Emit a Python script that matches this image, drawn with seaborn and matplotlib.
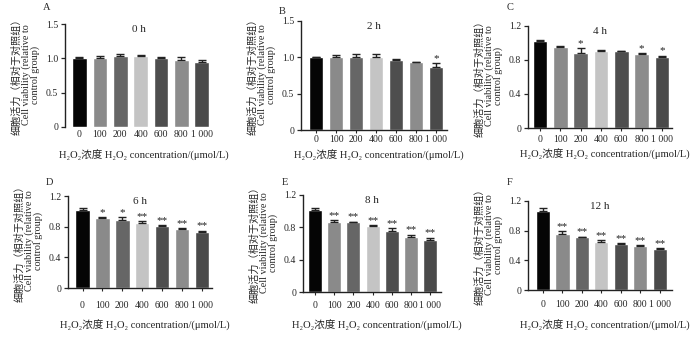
import numpy as np
import pandas as pd
import matplotlib
matplotlib.use("Agg")
import matplotlib.pyplot as plt
import seaborn as sns

sns.set_style("white")
plt.rcParams['font.family'] = ['Liberation Serif', 'Noto Sans CJK SC']

concentrations = ["0", "100", "200", "400", "600", "800", "1 000"]
bar_colors = ["#050505", "#8a8a8a", "#666666", "#c4c4c4", "#4e4e4e", "#8c8c8c", "#4a4a4a"]

panel_letters = ["A", "B", "C", "D", "E", "F"]
panel_titles = ["0 h", "2 h", "4 h", "6 h", "8 h", "12 h"]

means_0h = [1.00, 1.01, 1.03, 1.04, 1.00, 0.98, 0.94]
err_0h = [0.02, 0.02, 0.04, 0.015, 0.02, 0.04, 0.03]
stars_0h = ["", "", "", "", "", "", ""]

means_2h = [1.00, 1.01, 1.01, 1.00, 0.97, 0.93, 0.87]
err_2h = [0.01, 0.02, 0.04, 0.04, 0.01, 0.01, 0.05]
stars_2h = ["", "", "", "", "", "", "*"]

means_4h = [1.02, 0.95, 0.88, 0.91, 0.90, 0.87, 0.83]
err_4h = [0.02, 0.02, 0.06, 0.01, 0.005, 0.01, 0.02]
stars_4h = ["", "", "*", "", "", "*", "*"]

means_6h = [1.02, 0.91, 0.89, 0.85, 0.81, 0.77, 0.73]
err_6h = [0.02, 0.01, 0.03, 0.02, 0.01, 0.01, 0.02]
stars_6h = ["", "*", "*", "**", "**", "**", "**"]

means_8h = [1.02, 0.87, 0.86, 0.82, 0.75, 0.68, 0.64]
err_8h = [0.02, 0.02, 0.01, 0.01, 0.04, 0.03, 0.03]
stars_8h = ["", "**", "**", "**", "**", "**", "**"]

means_12h = [1.07, 0.75, 0.71, 0.65, 0.62, 0.59, 0.55]
err_12h = [0.04, 0.04, 0.01, 0.02, 0.01, 0.015, 0.01]
stars_12h = ["", "**", "**", "**", "**", "**", "**"]

all_means = [means_0h, means_2h, means_4h, means_6h, means_8h, means_12h]
all_errs = [err_0h, err_2h, err_4h, err_6h, err_8h, err_12h]
all_stars = [stars_0h, stars_2h, stars_4h, stars_6h, stars_8h, stars_12h]

W, H = 700, 344
fig = plt.figure(figsize=(7.0, 3.44), dpi=100)

# pixel boxes: left, right, top, bottom
boxes = [
    (65, 212, 24, 127),
    (301, 447, 21, 130),
    (528, 672, 26, 128),
    (68, 212, 196, 288),
    (303, 441, 195, 292),
    (528, 672, 201, 290),
]
xlims = [(-0.71, 6.5), (-0.75, 6.55), (-0.59, 6.5), (-0.73, 6.5), (-0.62, 6.55), (-0.77, 6.62)]
letter_pos = [(43, 8), (279, 12), (507, 8), (46, 182), (282, 183), (507, 183)]
ymaxes = [1.5, 1.5, 1.2, 1.2, 1.2, 1.2]
yticks_list = [[0, 0.5, 1.0, 1.5], [0, 0.5, 1.0, 1.5]] + [[0, 0.4, 0.8, 1.2]] * 4
yticklabels_list = [["0", "0.5", "1.0", "1.5"]] * 2 + [["0", "0.4", "0.8", "1.2"]] * 4
bottom_spine = [False, True, True, True, True, True]
xtick_pad = [2.5, 1.0, 2.5, 6.5, 3.8, 5.0]
xlabel_y = [155, 155, 154, 325, 325, 325]

fs = 7.0
for i in range(6):
    l, r, t, b = boxes[i]
    ax = fig.add_axes([l / W, 1 - b / H, (r - l) / W, (b - t) / H])
    df = pd.DataFrame({"conc": concentrations, "val": all_means[i]})
    sns.barplot(data=df, x="conc", y="val", hue="conc", palette=bar_colors,
                legend=False, errorbar=None, width=0.72, ax=ax, saturation=1)
    xs = np.arange(len(concentrations))
    ax.errorbar(xs, all_means[i], yerr=[np.zeros(7), all_errs[i]], fmt="none",
                ecolor="#222222", elinewidth=1.0, capsize=2.8, capthick=1.0)
    for x, m, e, s in zip(xs, all_means[i], all_errs[i], all_stars[i]):
        if s:
            ax.text(x, m + e + 0.003, s, ha="center", va="bottom",
                    fontsize=8, color="#222222")
    ax.set_xlim(*xlims[i])
    ax.set_ylim(0, ymaxes[i])
    ax.set_yticks(yticks_list[i])
    ax.set_yticklabels(yticklabels_list[i], fontsize=fs)
    ax.set_xticks(xs)
    ax.set_xticklabels(concentrations, fontsize=fs)
    for sp in ["top", "right"]:
        ax.spines[sp].set_visible(False)
    ax.spines["left"].set_linewidth(1.0)
    ax.spines["left"].set_color("#222222")
    if bottom_spine[i]:
        ax.spines["bottom"].set_linewidth(1.0)
        ax.spines["bottom"].set_color("#222222")
        ax.tick_params(axis="x", length=2.5, width=0.8, pad=xtick_pad[i], bottom=True)
    else:
        ax.spines["bottom"].set_visible(False)
        ax.tick_params(axis="x", length=0, pad=xtick_pad[i])
    ax.tick_params(axis="y", length=3, width=0.9, pad=2, direction="out", left=True)
    ax.set_xlabel("")
    ax.set_ylabel("")
    ax.text(0.5, 0.99, panel_titles[i], transform=ax.transAxes, ha="center", va="top",
            fontsize=8)
    # panel letter
    lx, ly = letter_pos[i]
    fig.text(lx / W, 1 - ly / H, panel_letters[i], fontsize=7.5, ha="left", va="center")
    # y label
    fig.text((l - 39) / W, 1 - ((t + b) / 2 - 1) / H,
             "细胞活力（相对于对照组）\nCell viability (relative to\ncontrol group)",
             rotation=90, ha="center", va="center", fontsize=7.3, linespacing=0.95,
             multialignment="center")
    # x label
    fig.text(((l + r) / 2 + 5) / W, 1 - xlabel_y[i] / H,
             "H₂O₂浓度 H₂O₂ concentration/(μmol/L)", ha="center", va="center", fontsize=7.6)

fig.savefig("out.png", dpi=100, facecolor="white")
